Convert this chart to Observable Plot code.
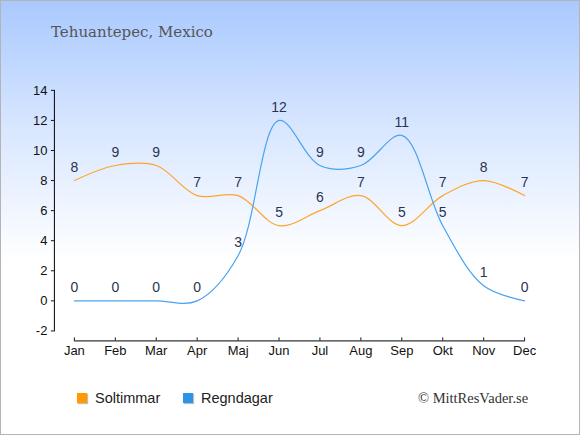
<!DOCTYPE html>
<html><head><meta charset="utf-8">
<script src="https://cdn.jsdelivr.net/npm/d3@7"></script>
<script src="https://cdn.jsdelivr.net/npm/@observablehq/plot@0.6"></script>
<style>
html,body{margin:0;padding:0;}
#wrap{position:relative;width:578px;height:433px;border:1px solid #b4b4b4;
  background:linear-gradient(to bottom,#a9c9ff 0px,#d6e5ff 120px,#ffffff 260px,#ffffff 433px);overflow:hidden;}
#title{position:absolute;left:50px;top:22px;font-family:"DejaVu Serif","Liberation Serif",serif;font-size:15px;color:#555;}
#chart{position:absolute;left:-1px;top:-1px;}
.leg{position:absolute;top:389px;font-family:"Liberation Sans",Arial,sans-serif;font-size:14.5px;color:#222;display:flex;align-items:center;}
.sw{width:10px;height:10px;margin-right:8px;box-shadow:1px 1px 1px rgba(0,0,0,0.25);}
#copy{position:absolute;left:417px;top:389px;font-family:"Liberation Serif","DejaVu Serif",serif;font-size:14.5px;color:#333;}
</style></head>
<body>
<div id="wrap">
  <div id="chart"></div>
  <div id="title">Tehuantepec, Mexico</div>
  <div class="leg" style="left:76px"><div class="sw" style="background:#ff9a00"></div>Soltimmar</div>
  <div class="leg" style="left:182px"><div class="sw" style="background:#2b93e8"></div>Regndagar</div>
  <div id="copy">© MittResVader.se</div>
</div>
<script>
const months = ["Jan","Feb","Mar","Apr","Maj","Jun","Jul","Aug","Sep","Okt","Nov","Dec"];
const soltimmar = [8,9,9,7,7,5,6,7,5,7,8,7];
const regndagar = [0,0,0,0,3,12,9,9,11,5,1,0];
const yDomain = [-2,14];
const yTicks = [-2,0,2,4,6,8,10,12,14];

const sun = months.map((m,i)=>({m, v: soltimmar[i]}));
const rain = months.map((m,i)=>({m, v: regndagar[i]}));

const labelColor = "#2a3450";
const chart = Plot.plot({
  width: 580, height: 435,
  marginLeft: 54, marginRight: 55, marginTop: 90, marginBottom: 104,
  style: {background: "transparent", fontFamily: "'Liberation Sans', Arial, sans-serif", fontSize: "13px", color: "#111", overflow: "visible"},
  x: {type: "point", domain: months, padding: 0, insetLeft: 20},
  y: {domain: yDomain, ticks: yTicks},
  marks: [
    Plot.frame({anchor: "left", stroke: "#000"}),
    Plot.frame({anchor: "bottom", stroke: "#000", dy: 10, insetLeft: 20}),
    Plot.axisY({ticks: yTicks, tickSize: 3, tickPadding: 4, label: null, fontSize: 13, tickFormat: d => String(d)}),
    Plot.axisX({tickSize: -3, dy: 10, text: null, label: null}),
    Plot.axisX({tickSize: 0, tickPadding: 5, dy: 10, label: null, fontSize: 13}),
    Plot.line(sun, {x: "m", y: "v", stroke: "#ffa52b", strokeWidth: 1.2, curve: "catmull-rom"}),
    Plot.line(rain, {x: "m", y: "v", stroke: "#4aa3ef", strokeWidth: 1.2, curve: "catmull-rom"}),
    Plot.text(sun, {x: "m", y: "v", text: "v", dy: -13, fill: labelColor, fontSize: 14}),
    Plot.text(rain, {x: "m", y: "v", text: "v", dy: -13, fill: labelColor, fontSize: 14})
  ]
});
document.getElementById("chart").appendChild(chart);
</script>
</body></html>
